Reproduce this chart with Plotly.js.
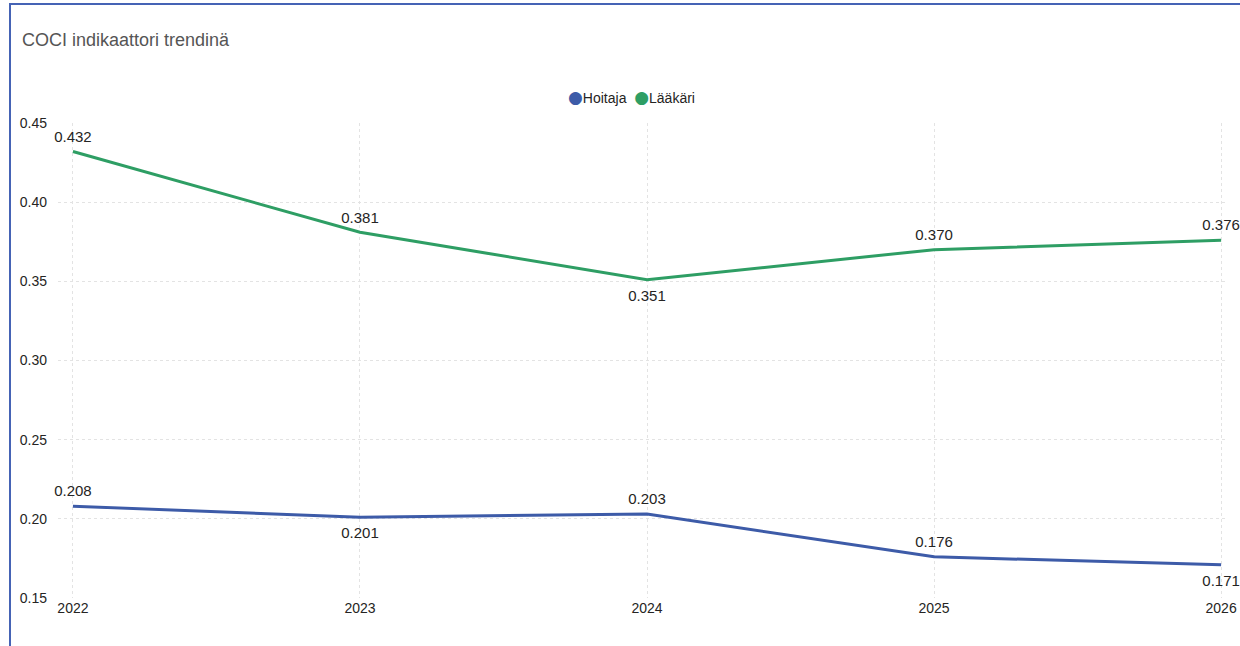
<!DOCTYPE html>
<html>
<head>
<meta charset="utf-8">
<script src="https://cdn.plot.ly/plotly-3.0.1.min.js"></script>
<style>
html,body{margin:0;padding:0;background:#fff;}
#wrap{position:relative;width:1240px;height:646px;overflow:hidden;}
#chart{width:1240px;height:646px;}
#frame{position:absolute;left:9px;top:3px;width:1240px;height:700px;border-left:2px solid #4563B5;border-top:2px solid #4563B5;pointer-events:none;}
</style>
</head>
<body>
<div id="wrap"><div id="chart"></div><div id="frame"></div></div>
<script>
const years = [2022, 2023, 2024, 2025, 2026];
const seriesNames = ["Hoitaja", "Lääkäri"];
const hoitaja = [0.208, 0.201, 0.203, 0.176, 0.171];
const laakari = [0.432, 0.381, 0.351, 0.370, 0.376];
const hoitajaPos = ["top center", "bottom center", "top center", "top center", "bottom center"];
const laakariPos = ["top center", "top center", "bottom center", "top center", "top center"];
const yTicks = [0.15, 0.20, 0.25, 0.30, 0.35, 0.40, 0.45];

const fmt = v => v.toFixed(3);
const BLUE = "#3D5BA8", GREEN = "#2E9E64";
const FONT = "Liberation Sans, Arial, sans-serif";

function lineTrace(y, name, color, pos) {
  return {
    x: years, y: y, name: name, type: "scatter", mode: "lines+markers+text",
    line: {color: color, width: 3},
    marker: {size: pos.map(p => p.startsWith("top") ? 8 : 14), color: color, opacity: 0},
    text: y.map(fmt), textposition: pos,
    textfont: {family: FONT, size: 15, color: "#252423"},
    cliponaxis: false, showlegend: false
  };
}

const traces = [
  lineTrace(hoitaja, seriesNames[0], BLUE, hoitajaPos),
  lineTrace(laakari, seriesNames[1], GREEN, laakariPos)
];

const dot = c => "<span style='color:" + c + ";font-family:DejaVu Sans;font-size:17px'>●</span>";
const legendText = dot(BLUE) + seriesNames[0] + "&nbsp;&nbsp;" + dot(GREEN) + seriesNames[1];

const layout = {
  width: 1240, height: 646,
  margin: {l: 58, r: 12, t: 123, b: 48},
  paper_bgcolor: "#fff", plot_bgcolor: "#fff",
  font: {family: FONT, size: 14, color: "#252423"},
  showlegend: false,
  title: {
    text: "COCI indikaattori trendinä",
    x: 0, xref: "paper", xanchor: "left", y: 1, yref: "container", yanchor: "top",
    pad: {t: 33, l: -36},
    font: {family: FONT, size: 18, color: "#555555"}
  },
  annotations: [{
    text: legendText, xref: "paper", yref: "paper",
    x: 0.49, y: 1.054, xanchor: "center", yanchor: "middle",
    showarrow: false, font: {family: FONT, size: 14, color: "#252423"}
  }],
  xaxis: {
    range: [2021.948, 2026.024],
    tickvals: years, ticktext: years.map(String),
    showgrid: true, gridcolor: "#e3e3e3", griddash: "dot", gridwidth: 1,
    zeroline: false, showline: false, ticks: "",
    tickfont: {family: FONT, size: 14, color: "#252423"}
  },
  yaxis: {
    range: [0.15, 0.45],
    tickvals: yTicks, ticktext: yTicks.map(v => v.toFixed(2)),
    showgrid: true, gridcolor: "#e3e3e3", griddash: "dot", gridwidth: 1,
    zeroline: false, showline: false, ticks: "", ticklabelstandoff: 10,
    tickfont: {family: FONT, size: 14, color: "#252423"}
  }
};

Plotly.newPlot("chart", traces, layout, {displayModeBar: false, staticPlot: true});
</script>
</body>
</html>
